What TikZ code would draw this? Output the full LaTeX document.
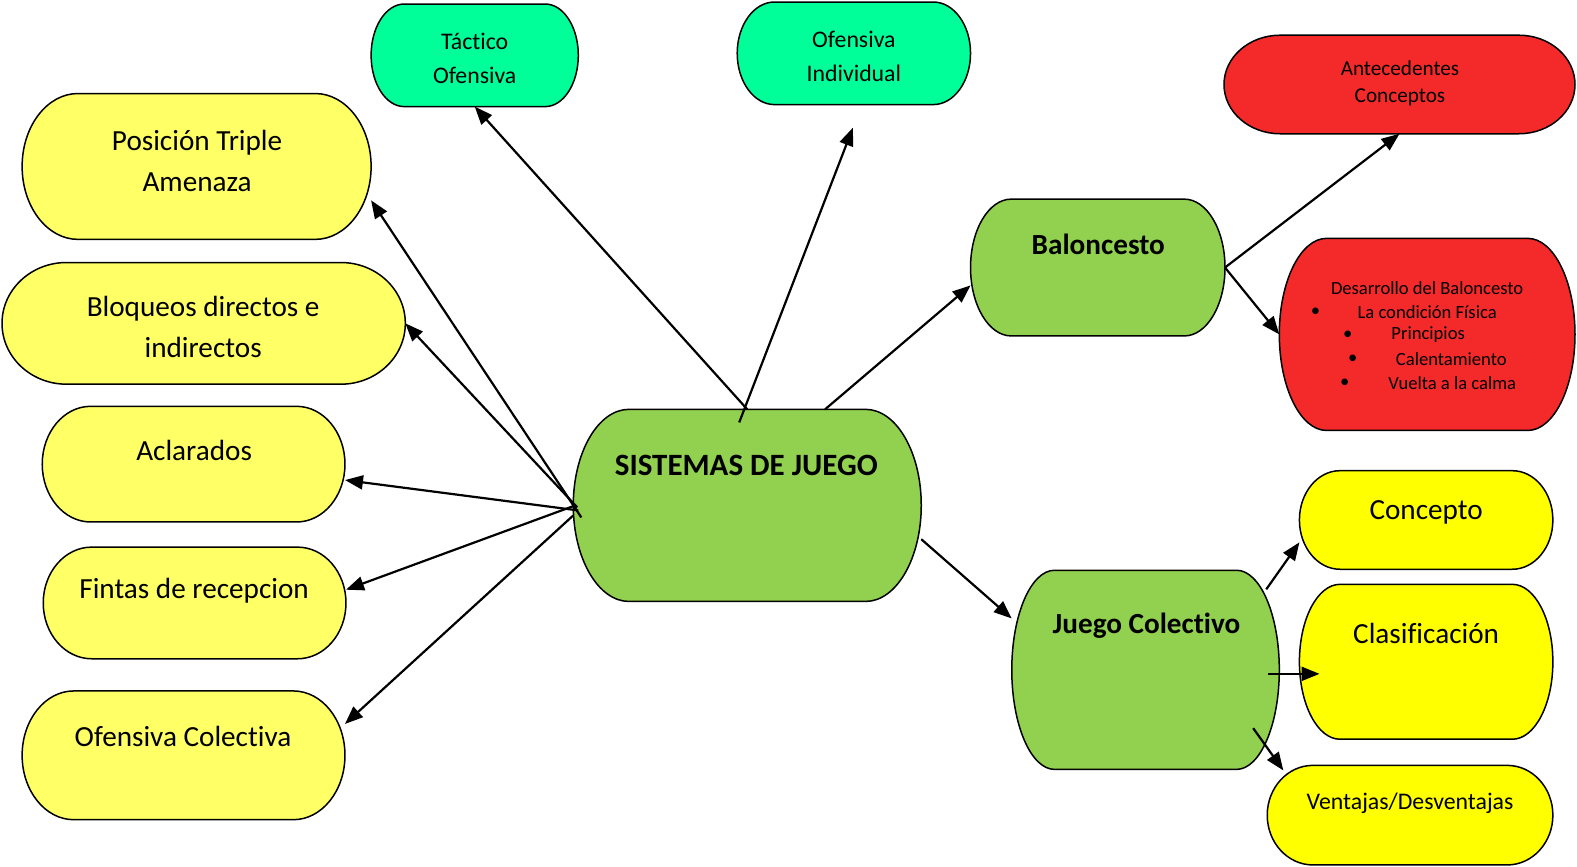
\documentclass[tikz,border=0pt]{standalone}
\usepackage{fontspec}
\setmainfont{Carlito}[Ligatures={NoCommon}]
\usetikzlibrary{arrows.meta,calc,backgrounds}

\definecolor{mint}{HTML}{00FF99}
\definecolor{ylw}{HTML}{FFFF66}
\definecolor{amar}{HTML}{FFFF00}
\definecolor{verde}{HTML}{92D050}
\definecolor{rojo}{HTML}{F42A2A}

\newdimen\pxu \pxu=0.5029pt
\newcommand\bigtxt{\fontsize{14.6}{20.6}\selectfont}
\newcommand\midtxt{\fontsize{11.9}{16.6}\selectfont}
\newcommand\smltxt{\fontsize{10.6}{13.6}\selectfont}
\newcommand\tnytxt{\fontsize{9.3}{11.9}\selectfont}

\tikzset{
  box/.style={rectangle, inner sep=0pt, outer sep=0pt},
  sz/.style 2 args={minimum width=#1*\pxu, minimum height=#2*\pxu},
  pill/.style={fill=#1, draw=black, line width=0.75pt},
  lbl/.style={inner sep=0pt, align=center, font=\bigtxt},
  flecha/.style={-{Triangle[length=9pt,width=7pt]}, line width=1.1pt},
}

\begin{document}
\begin{tikzpicture}[x=\pxu, y=-\pxu]

\useasboundingbox (0,0) rectangle (1568,862);

% cajas
\node[box, sz={206}{102}] (tac) at (472,55) {};
\node[box, sz={232}{102}] (ind) at (849,53) {};
\node[box, sz={349}{98}] (ant) at (1391.5,84) {};
\node[box, sz={347}{145}] (pos) at (195.5,165.5) {};
\node[box, sz={401}{121}] (blo) at (202.5,321.5) {};
\node[box, sz={301}{115}] (acl) at (192.5,461.5) {};
\node[box, sz={301}{111}] (fin) at (193.5,599.5) {};
\node[box, sz={321}{128}] (ofc) at (182.5,751) {};
\node[box, sz={346}{191}] (sis) at (743,502.5) {};
\node[box, sz={253}{136}] (bal) at (1091.5,266) {};
\node[box, sz={294}{191}] (des) at (1419,332.5) {};
\node[box, sz={266}{198}] (jc) at (1139,666) {};
\node[box, sz={252}{98}] (con) at (1418,517) {};
\node[box, sz={252}{154}] (cla) at (1418,658) {};
\node[box, sz={284}{99}] (ven) at (1402,810.5) {};

\begin{scope}[on background layer]
\foreach \nd/\c in {tac/mint, ind/mint, ant/rojo, pos/ylw, blo/ylw, acl/ylw,
  fin/ylw, ofc/ylw, sis/verde, bal/verde, des/rojo, jc/verde, con/amar,
  cla/amar, ven/amar}{
  \path let \p1=(\nd.north west), \p2=(\nd.south east),
    \n1={0.16*(\x2-\x1)}, \n2={0.5*(\y1-\y2)} in
    [pill=\c] (\x1+\n1,\y1) -- (\x2-\n1,\y1)
    arc[start angle=90, end angle=-90, x radius=\n1, y radius=\n2]
    -- (\x1+\n1,\y2)
    arc[start angle=270, end angle=90, x radius=\n1, y radius=\n2]
    -- cycle;
}
\end{scope}

% textos
\node[lbl, font=\midtxt] (tac-t) at (472,58) {Táctico\\Ofensiva};
\node[lbl, font=\midtxt] (ind-t) at (849,56) {Ofensiva\\Individual};
\node[lbl, font=\smltxt] (ant-t) at (1392,83) {Antecedentes\\Conceptos};
\node[lbl] (pos-t) at (196,160) {Posición Triple\\Amenaza};
\node[lbl] (blo-t) at (202,325) {Bloqueos directos e\\indirectos};
\node[lbl] (acl-t) at (193,448) {Aclarados};
\node[lbl] (fin-t) at (193,587) {Fintas de recepcion};
\node[lbl] (ofc-t) at (182,732) {Ofensiva Colectiva};
\node[lbl, font=\fontsize{15.5}{19}\selectfont\bfseries] (sis-t) at (742,463) {SISTEMAS DE JUEGO};
\node[lbl, font=\bigtxt\bfseries] (bal-t) at (1092,243) {Baloncesto};
\node[lbl, font=\bigtxt\bfseries] (jc-t) at (1140,622) {Juego Colectivo};
\node[lbl] (con-t) at (1418,509) {Concepto};
\node[lbl] (cla-t) at (1418,630) {Clasificación};
\node[lbl, font=\midtxt] (ven-t) at (1402,799) {Ventajas/Desventajas};

\node[lbl, font=\tnytxt] (des-t1) at (1419,286) {Desarrollo del Baloncesto};
\node[lbl, font=\tnytxt] (des-t2) at (1419,310) {La condición Física};
\node[lbl, font=\tnytxt] (des-t3) at (1420,333) {Principios};
\node[lbl, font=\tnytxt] (des-t4) at (1443,357) {Calentamiento};
\node[lbl, font=\tnytxt] (des-t5) at (1444,381) {Vuelta a la calma};
\node[lbl, font=\tnytxt] (des-b2) at (1308,310) {\textbullet};
\node[lbl, font=\tnytxt] (des-b3) at (1340,333) {\textbullet};
\node[lbl, font=\tnytxt] (des-b4) at (1345,357) {\textbullet};
\node[lbl, font=\tnytxt] (des-b5) at (1337,381) {\textbullet};

% flechas
\draw[flecha] (sis.north) -- (tac.south);
\draw[flecha] ($(sis.north)+(-8,13)$) -- ($(ind.south)+(-1,23)$);
\draw[flecha] (sis.51) -- (bal.188);
\draw[flecha] (sis.-11) -- (jc.159);
\draw[flecha] (bal.east) -- (ant.south);
\draw[flecha] (bal.east) -- (des.west);
\draw[flecha] ($(jc.north east)+(-13,19)$) -- (con.190);
\draw[flecha] ($(jc.east)+(-11,4)$) -- ($(cla.west)+(20,12)$);
\draw[flecha] ($(jc.south east)+(-26,-41)$) -- ($(ven.north west)+(16,5)$);

\draw[flecha] ($(sis.west)+(8,12)$) -- (pos.-11);
\draw[flecha] ($(sis.west)+(4,2)$) -- (blo.east);
\draw[flecha] ($(sis.west)+(5,5)$) -- (acl.-6);
\draw[flecha] ($(sis.west)+(2,0)$) -- (fin.5);
\draw[flecha] ($(sis.west)+(0,10)$) -- (ofc.11);

\end{tikzpicture}
\end{document}
